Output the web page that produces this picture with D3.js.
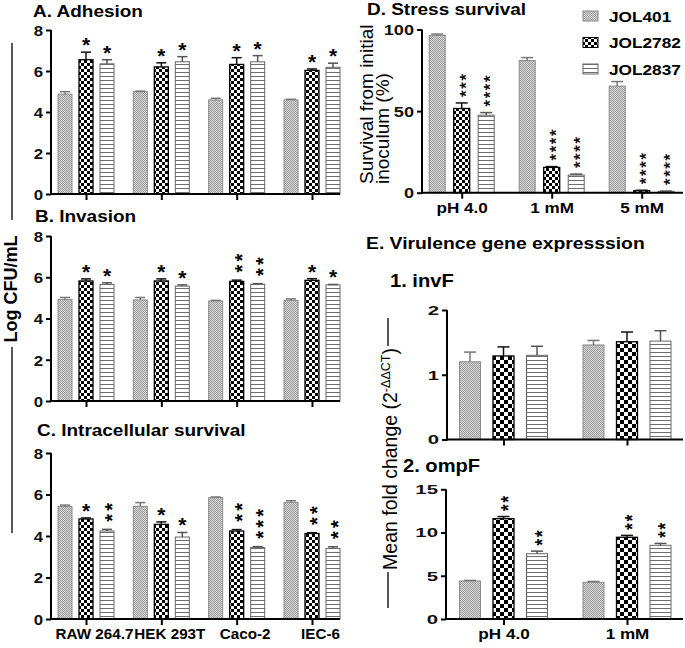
<!DOCTYPE html>
<html><head><meta charset="utf-8">
<script src="https://cdn.jsdelivr.net/npm/d3@7"></script>
<style>
body{margin:0;background:#fff}
svg{display:block}
text{font-family:"Liberation Sans",Arial,Helvetica,sans-serif}
</style>
</head><body>
<svg id="c" width="685" height="648"></svg>
<script>
// ---------- DATA ----------
const series = ["JOL401", "JOL2782", "JOL2837"];
const cellLines = ["RAW 264.7", "HEK 293T", "Caco-2", "IEC-6"];

const adhesionMean = [[4.87, 6.55, 6.35], [4.99, 6.20, 6.45], [4.59, 6.32, 6.45], [4.59, 6.03, 6.18]];
const adhesionErr  = [[0.12, 0.37, 0.20], [0.03, 0.20, 0.25], [0.08, 0.33, 0.30], [0.03, 0.07, 0.20]];
const adhesionStars = [[0, 1, 1], [0, 1, 1], [0, 1, 1], [0, 1, 1]];

const invasionMean = [[4.92, 5.82, 5.65], [4.90, 5.82, 5.57], [4.85, 5.80, 5.66], [4.88, 5.85, 5.63]];
const invasionErr  = [[0.10, 0.10, 0.08], [0.12, 0.10, 0.06], [0.03, 0.06, 0.03], [0.07, 0.08, 0.02]];
const invasionStars = [[0, 1, 1], [0, 1, 1], [0, 2, 2], [0, 1, 1]];

const survivalMean = [[5.42, 4.82, 4.24], [5.43, 4.56, 3.95], [5.85, 4.24, 3.44], [5.62, 4.12, 3.40]];
const survivalErr  = [[0.07, 0.05, 0.08], [0.18, 0.12, 0.22], [0.03, 0.07, 0.05], [0.08, 0.04, 0.08]];
const survivalStars = [[0, 1, 2], [0, 1, 1], [0, 2, 3], [0, 2, 2]];

const stressConditions = ["pH 4.0", "1 mM", "5 mM"];
const stressMean = [[96.4, 51.6, 47.5], [81.0, 15.5, 10.8], [65.3, 1.2, 0.8]];
const stressErr  = [[0.8, 3.4, 1.6], [1.8, 0.5, 0.6], [2.8, 0.3, 0.2]];
const stressStars = [[0, 3, 4], [0, 4, 4], [0, 4, 4]];

const geneConditions = ["pH 4.0", "1 mM"];
const invFMean = [[1.20, 1.29, 1.30], [1.46, 1.51, 1.52]];
const invFErr  = [[0.15, 0.14, 0.14], [0.07, 0.15, 0.16]];
const invFStars = [[0, 0, 0], [0, 0, 0]];
const ompFMean = [[4.40, 11.60, 7.55], [4.24, 9.45, 8.52]];
const ompFErr  = [[0.06, 0.25, 0.30], [0.10, 0.22, 0.22]];
const ompFStars = [[0, 2, 2], [0, 2, 2]];

const logTicks = [0, 2, 4, 6, 8];
const stressTicks = [0, 50, 100];
const invFTicks = [0, 1, 2];
const ompFTicks = [0, 5, 10, 15];

// ---------- SETUP ----------
const svg = d3.select("#c");
const defs = svg.append("defs");

function pattern(id, w, h, draw) {
  const p = defs.append("pattern").attr("id", id).attr("patternUnits", "userSpaceOnUse")
    .attr("width", w).attr("height", h);
  draw(p);
}
pattern("p401", 2, 2, p => {
  p.append("rect").attr("width", 2).attr("height", 2).attr("fill", "#d4d4d4");
  p.append("rect").attr("width", 1).attr("height", 1).attr("fill", "#a0a0a0");
  p.append("rect").attr("x", 1).attr("y", 1).attr("width", 1).attr("height", 1).attr("fill", "#a0a0a0");
});
pattern("p2782", 6, 6, p => {
  p.append("rect").attr("width", 6).attr("height", 6).attr("fill", "#fff");
  p.append("rect").attr("width", 3).attr("height", 3).attr("fill", "#000");
  p.append("rect").attr("x", 3).attr("y", 3).attr("width", 3).attr("height", 3).attr("fill", "#000");
});
pattern("p2782b", 8, 8, p => {
  p.append("rect").attr("width", 8).attr("height", 8).attr("fill", "#fff");
  p.append("rect").attr("width", 4).attr("height", 4).attr("fill", "#000");
  p.append("rect").attr("x", 4).attr("y", 4).attr("width", 4).attr("height", 4).attr("fill", "#000");
});
pattern("p2837", 4, 4, p => {
  p.append("rect").attr("width", 4).attr("height", 4).attr("fill", "#fff");
  p.append("rect").attr("width", 4).attr("height", 1).attr("fill", "#6e6e6e");
});

const strokeCol = ["#8a8a8a", "#000", "#666"];
const errCol = ["#777", "#111", "#555"];

function txt(g, x, y, s, o = {}) {
  const t = g.append("text")
    .attr("transform", `translate(${x},${y}) scale(${o.sx ?? 1.15},1)` + (o.rot ? ` rotate(${o.rot})` : ""))
    .attr("text-anchor", o.anchor || "start")
    .style("font-size", (o.size || 16) + "px")
    .style("font-weight", o.weight || "bold")
    .attr("fill", o.fill || "#000");
  if (s != null) t.text(s);
  return t;
}

function panel(cfg) {
  const g = svg.append("g");
  const x = d3.scalePoint().domain(cfg.cats).range(cfg.centers);
  const xs = d3.scalePoint().domain(series).range([-cfg.inner, cfg.inner]);
  const y = d3.scaleLinear().domain(cfg.domain).range(cfg.yRange);
  const pats = cfg.pats;
  const rows = [];
  cfg.cats.forEach((c, i) => series.forEach((s, j) => rows.push({
    c, s, j, m: cfg.means[i][j], e: cfg.errs[i][j], n: cfg.stars[i][j]
  })));
  const cx = d => x(d.c) + xs(d.s);
  // bars
  g.selectAll("rect.bar").data(rows).join("rect").attr("class", "bar")
    .attr("x", d => cx(d) - cfg.barW / 2).attr("width", cfg.barW)
    .attr("y", d => y(d.m)).attr("height", d => y(0) - y(d.m))
    .attr("fill", d => `url(#${pats[d.j]})`)
    .attr("stroke", d => strokeCol[d.j]).attr("stroke-width", d => d.j === 1 ? 1.3 : 1);
  // error bars (upper only)
  const eg = g.selectAll("g.err").data(rows).join("g").attr("class", "err")
    .attr("stroke", d => errCol[d.j]).attr("stroke-width", 1.5);
  eg.append("line").attr("x1", cx).attr("x2", cx).attr("y1", d => y(d.m)).attr("y2", d => y(d.m + d.e));
  eg.append("line").attr("x1", d => cx(d) - cfg.capW / 2).attr("x2", d => cx(d) + cfg.capW / 2)
    .attr("y1", d => y(d.m + d.e)).attr("y2", d => y(d.m + d.e));
  // stars
  rows.filter(d => d.n > 0).forEach(d => {
    const top = y(d.m + d.e);
    if (cfg.starRot) {
      txt(g, cx(d) + 0.58 * cfg.starSize, top - cfg.starOff, "*".repeat(d.n),
        { size: cfg.starSize, weight: "normal", sx: 1, rot: -90, fill: "#000" })
        .attr("stroke", "#000").attr("stroke-width", 0.35)
        .style("letter-spacing", cfg.starLs + "px");
    } else if (d.n === 1) {
      txt(g, cx(d), top + cfg.starOff, "*",
        { size: cfg.starSize, anchor: "middle", sx: cfg.starSx || 1.05 });
    } else {
      // stacked asterisks: one rotated string, letter-spaced to the stacking gap
      const adv = 0.389 * cfg.starSize;
      const start = top + cfg.starOff - 0.58 * cfg.starSize + adv / 2;
      txt(g, cx(d) + 0.58 * cfg.starSize * (cfg.starSx || 1.05), start, "*".repeat(d.n),
        { size: cfg.starSize, sx: cfg.starSx || 1.05, rot: -90 })
        .style("letter-spacing", (cfg.starGap - adv) + "px");
    }
  });
  // y axis
  const ya = g.append("g").attr("transform", `translate(${cfg.xAxis[0]},0)`)
    .call(d3.axisLeft(y).tickValues(cfg.ticks).tickFormat(d3.format("d")).tickSize(5).tickPadding(2).tickSizeOuter(0));
  ya.attr("font-family", null).attr("font-size", null);
  ya.select(".domain").attr("stroke", "#000").attr("stroke-width", 2)
    .attr("d", `M0,${y(0) + 1}V${y(cfg.domain[1])}`);
  ya.selectAll(".tick line").attr("stroke", "#000").attr("stroke-width", 2);
  ya.selectAll(".tick text").attr("x", -8 / cfg.tickSx).attr("dy", "0.36em")
    .attr("transform", `scale(${cfg.tickSx},1)`)
    .style("font-size", cfg.tickSize + "px").style("font-weight", "bold").attr("fill", "#111");
  // x axis
  g.append("line").attr("x1", cfg.xAxis[0] - 1).attr("x2", cfg.xAxis[1])
    .attr("y1", y(0)).attr("y2", y(0)).attr("stroke", "#000").attr("stroke-width", 2);
  const xa = g.append("g").attr("transform", `translate(0,${y(0)})`)
    .call(d3.axisBottom(x).tickSize(6).tickPadding(4).tickFormat(cfg.showLabels ? (d => d) : (() => "")));
  xa.attr("font-family", null).attr("font-size", null);
  xa.select(".domain").remove();
  xa.selectAll(".tick line").attr("stroke", "#000").attr("stroke-width", 2);
  if (!cfg.showLabels) xa.selectAll(".tick text").remove();
  xa.selectAll(".tick text").attr("x", (cfg.labelShift || 0) / (cfg.labelSx || 1))
    .attr("transform", `scale(${cfg.labelSx || 1},1)`)
    .style("font-size", (cfg.labelSize || 15) + "px").style("font-weight", "bold").attr("fill", "#000");
  return g;
}

const leftBase = {
  cats: cellLines, xAxis: [51, 340], centers: [86, 312], inner: 21, barW: 14, capW: 10,
  domain: [0, 8], ticks: logTicks, pats: ["p401", "p2782", "p2837"],
  starSize: 20, starGap: 11, starOff: 0, tickSize: 15, tickSx: 1.12
};
panel(Object.assign({}, leftBase, { yRange: [194, 30], means: adhesionMean, errs: adhesionErr, stars: adhesionStars }));
panel(Object.assign({}, leftBase, { yRange: [401, 236], means: invasionMean, errs: invasionErr, stars: invasionStars }));
panel(Object.assign({}, leftBase, { yRange: [619, 453], means: survivalMean, errs: survivalErr, stars: survivalStars,
  showLabels: true, labelSize: 14.5, labelSx: 1.05, labelShift: 8 }));

panel({
  cats: stressConditions, xAxis: [422, 683], centers: [461.7, 641.7], inner: 24.5, barW: 16, capW: 12,
  domain: [0, 100], ticks: stressTicks, pats: ["p401", "p2782", "p2837"], yRange: [192.7, 29.5],
  means: stressMean, errs: stressErr, stars: stressStars,
  starRot: true, starSize: 17, starLs: 1.6, starOff: 6, tickSize: 14.5, tickSx: 1.25,
  showLabels: true, labelSize: 14.5, labelSx: 1.18
});
panel({
  cats: geneConditions, xAxis: [447, 683], centers: [503.5, 627], inner: 33.5, barW: 21, capW: 12,
  domain: [0, 2], ticks: invFTicks, pats: ["p401", "p2782b", "p2837"], yRange: [439.5, 310],
  means: invFMean, errs: invFErr, stars: invFStars, starSize: 17, starGap: 8.5, starOff: 1,
  tickSize: 12, tickSx: 1.7
});
panel({
  cats: geneConditions, xAxis: [446, 683], centers: [503.5, 627], inner: 33.5, barW: 21, capW: 12,
  domain: [0, 15], ticks: ompFTicks, pats: ["p401", "p2782b", "p2837"], yRange: [619, 489.3],
  means: ompFMean, errs: ompFErr, stars: ompFStars, starSize: 17, starGap: 8.5, starOff: 1, starSx: 1.2,
  tickSize: 12, tickSx: 1.7, showLabels: true, labelSize: 14.5, labelSx: 1.18
});

// ---------- TITLES ----------
txt(svg, 33, 17, "A. Adhesion", { size: 16.5 });
txt(svg, 35, 222, "B. Invasion", { size: 16.5 });
txt(svg, 37, 436, "C. Intracellular survival", { size: 16.5 });
txt(svg, 367, 15, "D. Stress survival", { size: 16.5 });
txt(svg, 366, 249, "E. Virulence gene expresssion", { size: 16.8 });
txt(svg, 390, 287, "1. invF", { size: 17.5 });
txt(svg, 403, 472, "2. ompF", { size: 17.5 });

// ---------- AXIS LABELS ----------
txt(svg, 17, 289, "Log CFU/mL", { size: 18, sx: 1, rot: -90, anchor: "middle" });
svg.append("line").attr("x1", 12).attr("x2", 12).attr("y1", 43).attr("y2", 220).attr("stroke", "#222").attr("stroke-width", 1.5);
svg.append("line").attr("x1", 12).attr("x2", 12).attr("y1", 347).attr("y2", 533).attr("stroke", "#222").attr("stroke-width", 1.5);

txt(svg, 373, 184, "Survival from initial", { size: 19, weight: "normal", sx: 1, rot: -90 });
txt(svg, 389, 184, "inoculum (%)", { size: 19, weight: "normal", sx: 1, rot: -90 });

const el = txt(svg, 397, 459, null, { size: 19.5, weight: "normal", sx: 1, rot: -90, anchor: "middle" });
el.append("tspan").text("Mean fold change (2");
el.append("tspan").attr("dy", -7).style("font-size", "12.5px").text("-ΔΔCT");
el.append("tspan").attr("dy", 7).text(")");
svg.append("line").attr("x1", 388).attr("x2", 388).attr("y1", 318).attr("y2", 346).attr("stroke", "#222").attr("stroke-width", 1.5);
svg.append("line").attr("x1", 388).attr("x2", 388).attr("y1", 572).attr("y2", 608).attr("stroke", "#222").attr("stroke-width", 1.5);

// ---------- LEGEND ----------
const legPats = ["p401", "p2782", "p2837"];
const lg = svg.append("g");
const ly = d3.scalePoint().domain(series).range([16, 69]);
series.forEach((s, j) => {
  lg.append("rect").attr("x", 583).attr("y", ly(s) - 5).attr("width", 15).attr("height", 10)
    .attr("fill", `url(#${legPats[j]})`).attr("stroke", strokeCol[j]).attr("stroke-width", 1);
  txt(lg, 609, ly(s) + 5.5, s, { size: 15 });
});
</script>
</body></html>
